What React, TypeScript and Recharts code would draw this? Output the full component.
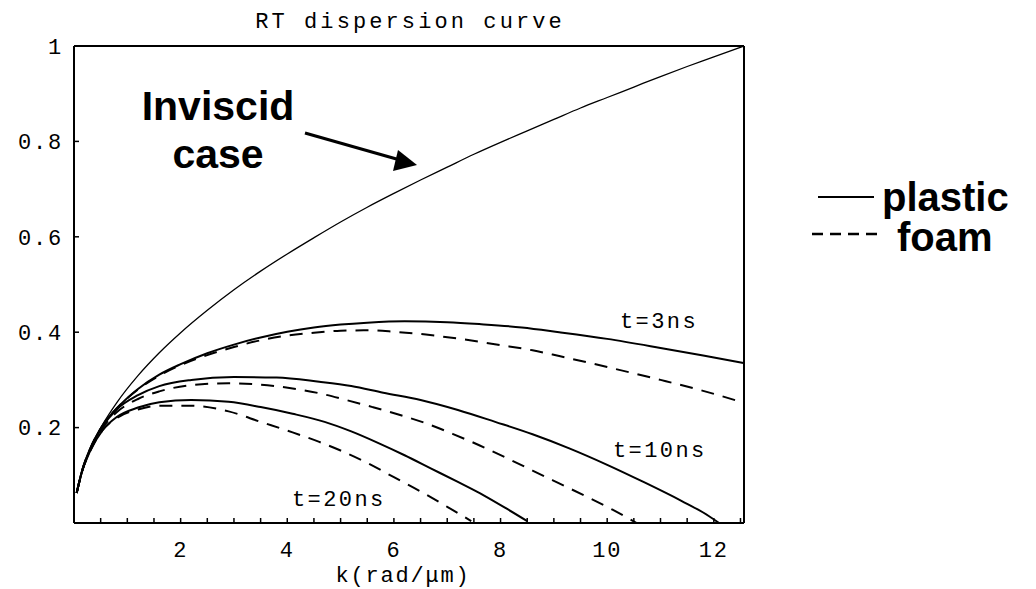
import React from "react";
import { LineChart, Line, XAxis, YAxis, Legend } from "recharts";

const MONO = "'Liberation Mono', 'DejaVu Sans Mono', monospace";
const SANS = "'Liberation Sans', Arial, Helvetica, sans-serif";

const K_MAX = 12.566; // 4π

// k in rad/µm, growth rate normalised to the inviscid value at k = 4π
const inviscidK = [0.05, 0.15, 0.3, 0.54, 0.8, 1.2, 1.6, 2, 2.5, 3, 3.5, 4, 4.5, 5, 5.5, 6, 6.5, 7, 7.5, 8, 8.5, 9, 9.5, 10, 10.5, 11, 11.5, 12, 12.566];
const inviscidV = [0.063, 0.109, 0.155, 0.207, 0.252, 0.309, 0.357, 0.399, 0.446, 0.489, 0.528, 0.564, 0.598, 0.631, 0.662, 0.691, 0.719, 0.746, 0.773, 0.798, 0.822, 0.846, 0.870, 0.892, 0.914, 0.936, 0.957, 0.977, 1.0];

const plastic3K = [0.05, 0.15, 0.3, 0.54, 0.8, 1.2, 1.6, 2.0, 2.5, 3.0, 3.5, 4.0, 4.5, 5.0, 5.5, 6.2, 7.0, 7.6, 8.4, 9.1, 10.0, 11.0, 11.8, 12.566];
const plastic3V = [0.063, 0.109, 0.155, 0.205, 0.24, 0.281, 0.311, 0.333, 0.356, 0.374, 0.389, 0.401, 0.41, 0.416, 0.42, 0.423, 0.421, 0.417, 0.41, 0.40, 0.386, 0.367, 0.351, 0.335];

const foam3K = [0.05, 0.15, 0.3, 0.54, 0.8, 1.2, 1.6, 2.0, 2.5, 3.0, 3.5, 4.0, 4.5, 5.0, 5.5, 6.0, 6.6, 7.3, 8.0, 8.6, 9.1, 10.0, 11.0, 11.8, 12.566];
const foam3V = [0.063, 0.109, 0.155, 0.205, 0.24, 0.28, 0.309, 0.331, 0.352, 0.369, 0.383, 0.393, 0.399, 0.403, 0.404, 0.401, 0.395, 0.385, 0.373, 0.362, 0.35, 0.327, 0.30, 0.277, 0.252];

const plastic10K = [0.05, 0.15, 0.3, 0.54, 0.8, 1.2, 1.6, 2.2, 3.0, 3.8, 4.6, 5.2, 5.8, 6.5, 7.2, 7.9, 8.6, 9.3, 10.0, 10.7, 11.4, 11.8, 12.1];
const plastic10V = [0.063, 0.108, 0.153, 0.203, 0.238, 0.268, 0.287, 0.30, 0.306, 0.305, 0.296, 0.287, 0.273, 0.258, 0.237, 0.212, 0.186, 0.156, 0.122, 0.085, 0.046, 0.022, 0.0];

const foam10K = [0.05, 0.15, 0.3, 0.54, 0.8, 1.2, 1.6, 2.2, 2.9, 3.5, 4.1, 4.6, 5.1, 5.6, 6.1, 6.6, 7.1, 7.6, 8.1, 8.6, 9.1, 9.6, 10.1, 10.55];
const foam10V = [0.063, 0.108, 0.152, 0.2, 0.232, 0.26, 0.276, 0.289, 0.293, 0.29, 0.282, 0.272, 0.258, 0.243, 0.227, 0.209, 0.187, 0.163, 0.137, 0.11, 0.083, 0.056, 0.028, 0.0];

const plastic20K = [0.05, 0.15, 0.3, 0.54, 0.8, 1.2, 1.6, 2.2, 2.9, 3.5, 4.1, 4.7, 5.2, 5.7, 6.2, 6.7, 7.2, 7.7, 8.1, 8.5];
const plastic20V = [0.063, 0.108, 0.15, 0.195, 0.222, 0.242, 0.253, 0.258, 0.254, 0.243, 0.229, 0.212, 0.192, 0.168, 0.142, 0.114, 0.086, 0.057, 0.031, 0.004];

const foam20K = [0.05, 0.15, 0.3, 0.54, 0.8, 1.2, 1.6, 2.2, 2.9, 3.5, 4.1, 4.6, 5.0, 5.5, 6.0, 6.5, 7.0, 7.45];
const foam20V = [0.063, 0.108, 0.15, 0.195, 0.22, 0.238, 0.246, 0.246, 0.234, 0.212, 0.19, 0.17, 0.152, 0.126, 0.096, 0.066, 0.034, 0.004];

const X_LABELS = [2, 4, 6, 8, 10, 12];
const Y_LABELS = [0.2, 0.4, 0.6, 0.8, 1];

// frame tick marks: every 0.5 along k, every 0.05 on the right edge
const X_MINOR = Array.from({ length: 25 }, (_, i) => (i + 1) * 0.5);
const Y_MINOR = Array.from({ length: 19 }, (_, i) => Math.round((i + 1) * 5) / 100);

const toPts = (ks: number[], vs: number[]) => ks.map((k, i) => ({ k, v: vs[i] }));

const frame = { stroke: "#000", strokeWidth: 2 };
const tickMark = { stroke: "#000", strokeWidth: 1.5 };

function XTick({ x, y, payload }: any) {
  if (!X_LABELS.includes(payload.value)) return null;
  return (
    <text x={x} y={y} textAnchor="middle" dominantBaseline="central"
      fontFamily={MONO} fontSize={22} letterSpacing={1.8} fill="#000">
      {payload.value}
    </text>
  );
}

function LegendBox() {
  return (
    <svg width={240} height={100} style={{ overflow: "visible" }}>
      <line x1={18} x2={74} y1={27} y2={27} stroke="#000" strokeWidth={2} />
      <text x={82} y={41} fontFamily={SANS} fontWeight="bold" fontSize={40} fill="#000">plastic</text>
      <line x1={12} x2={77} y1={64} y2={64} stroke="#000" strokeWidth={2.5} strokeDasharray="11 7" />
      <text x={97} y={81} fontFamily={SANS} fontWeight="bold" fontSize={40} fill="#000">foam</text>
    </svg>
  );
}

export default function App() {
  const curve = { type: "monotone" as const, dot: false, isAnimationActive: false, xAxisId: "b", yAxisId: "l", dataKey: "v", stroke: "#000" };
  const monoText = { fontFamily: MONO, fontSize: 22, letterSpacing: 2.4, fill: "#000" };
  return (
    <div style={{ position: "absolute", left: 0, top: 0, width: 1036, height: 589, background: "#fff" }}>
      <LineChart width={1036} height={589} margin={{ top: 45, right: 291, bottom: 0, left: 0 }}>
        <XAxis xAxisId="b" type="number" dataKey="k" domain={[0, K_MAX]} allowDataOverflow
          ticks={X_MINOR} interval={0} height={66} tickSize={-5} tickMargin={33}
          axisLine={frame} tickLine={tickMark} tick={(p: any) => <XTick {...p} />}
          label={{ value: "k(rad/μm)", position: "insideBottom", offset: 7, dx: -6, fontFamily: MONO, fontSize: 22, letterSpacing: 1.8, fill: "#000" }} />
        <XAxis xAxisId="t" orientation="top" type="number" domain={[0, K_MAX]} allowDataOverflow
          ticks={X_MINOR} interval={0} height={1} tickSize={-5} tick={false}
          axisLine={frame} tickLine={tickMark} />
        <YAxis yAxisId="l" type="number" domain={[0, 1]} allowDataOverflow
          ticks={Y_LABELS} interval={0} width={74} tickSize={-5} tickMargin={16}
          axisLine={frame} tickLine={tickMark}
          tick={{ fontFamily: MONO, fontSize: 22, letterSpacing: 1.8, fill: "#000" }} />
        <YAxis yAxisId="r" orientation="right" type="number" domain={[0, 1]} allowDataOverflow
          ticks={Y_MINOR} interval={0} width={1} tickSize={-5} tick={false}
          axisLine={frame} tickLine={tickMark} />

        <Line {...curve} data={toPts(inviscidK, inviscidV)} name="inviscid" strokeWidth={1.3} legendType="none" />
        <Line {...curve} data={toPts(plastic3K, plastic3V)} name="plastic" strokeWidth={2} />
        <Line {...curve} data={toPts(foam3K, foam3V)} name="foam" strokeWidth={2} strokeDasharray="13 9" />
        <Line {...curve} data={toPts(plastic10K, plastic10V)} name="plastic 10ns" strokeWidth={2} legendType="none" />
        <Line {...curve} data={toPts(foam10K, foam10V)} name="foam 10ns" strokeWidth={2} strokeDasharray="13 9" legendType="none" />
        <Line {...curve} data={toPts(plastic20K, plastic20V)} name="plastic 20ns" strokeWidth={2} legendType="none" />
        <Line {...curve} data={toPts(foam20K, foam20V)} name="foam 20ns" strokeWidth={2} strokeDasharray="13 9" legendType="none" />

        <Legend content={() => <LegendBox />}
          wrapperStyle={{ position: "absolute", left: 800, top: 170, width: 0, height: 0, overflow: "visible" }} />
      </LineChart>

      <svg width={1036} height={589} style={{ position: "absolute", left: 0, top: 0, pointerEvents: "none" }}>
        <text x={410} y={28} textAnchor="middle" fontFamily={MONO} fontSize={22} letterSpacing={3.1} fill="#000">
          RT dispersion curve
        </text>
        <text x={218} y={120} textAnchor="middle" fontFamily={SANS} fontWeight="bold" fontSize={41} fill="#000">Inviscid</text>
        <text x={218} y={168} textAnchor="middle" fontFamily={SANS} fontWeight="bold" fontSize={41} fill="#000">case</text>
        <line x1={305} y1={133} x2={400} y2={160} stroke="#000" strokeWidth={3} />
        <polygon points="417,165 398,150 393,171" fill="#000" />
        <text x={620} y={322} dominantBaseline="central" {...monoText}>t=3ns</text>
        <text x={613} y={451} dominantBaseline="central" {...monoText}>t=10ns</text>
        <text x={292} y={500} dominantBaseline="central" {...monoText}>t=20ns</text>
      </svg>
    </div>
  );
}
